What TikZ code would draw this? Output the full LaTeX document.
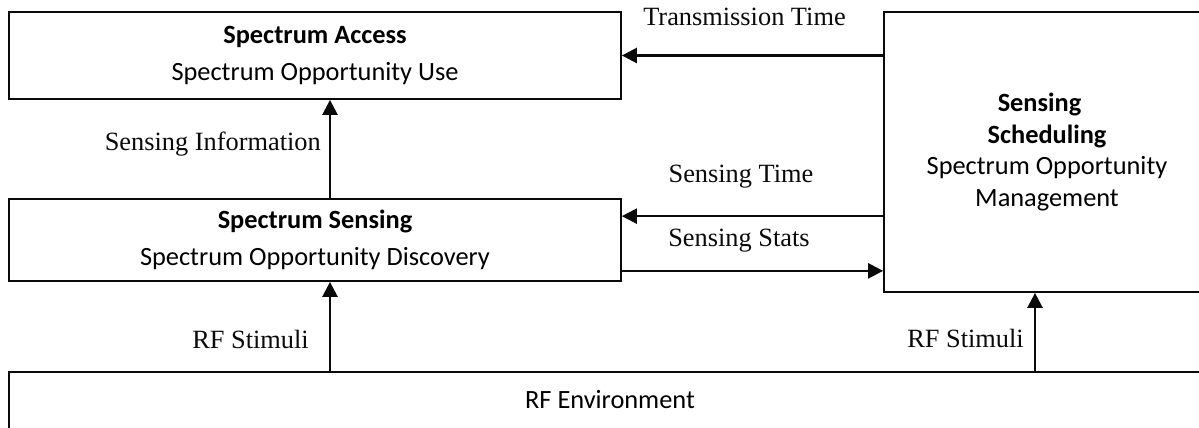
\documentclass[tikz,border=0pt]{standalone}
\usepackage{fontspec}
\setmainfont{Liberation Serif}
\newfontfamily\boxfont{Carlito}
\usetikzlibrary{arrows.meta,calc}
\definecolor{Ink}{HTML}{0A0A0A}

\begin{document}
\begin{tikzpicture}[font=\fontsize{15}{18}\selectfont,>={Triangle[length=3mm,width=3mm]},box/.style={draw=Ink,line width=1pt,align=center,inner sep=0pt,font=\boxfont\fontsize{15}{18}\selectfont},flow/.style={->,line width=1.4pt,draw=Ink},tag/.style={inner sep=0pt,text depth=0pt,text=Ink}]
 \useasboundingbox (0,0) rectangle (23.98,-8.54);
 \node[box,minimum width=12.24cm,minimum height=1.74cm] (access) at (6.30,-1.11) {\textbf{Spectrum Access}\\[3pt]Spectrum Opportunity Use};
 \node[box,minimum width=12.24cm,minimum height=1.64cm] (sensing) at (6.30,-4.80) {\textbf{Spectrum Sensing}\\[3pt]Spectrum Opportunity Discovery};
 \node[box,minimum width=6.52cm,minimum height=5.6cm] (sched) at (20.94,-3.04) {\textbf{Sensing}\hspace*{0.3cm}\\\textbf{Scheduling}\\Spectrum Opportunity\\Management};
 \node[box,anchor=north,minimum width=24.04cm,text height=0.74cm,text depth=1.5cm] (env) at (12.20,-7.42) {RF Environment};
 \coordinate (up) at ([xshift=0.3cm]sensing.north);
 \coordinate (rup) at ([xshift=-0.24cm]sched.south);
 \coordinate (tin) at ([yshift=-0.36cm]sensing.north east);
 \coordinate (sout) at ([yshift=0.22cm]sensing.south east);
 \draw[flow] (up) -- node[tag,left=0.16cm,pos=0.58] {Sensing Information} (up |- access.south);
 \draw[flow] (up |- env.north) -- node[tag,left=0.4cm,pos=0.36] {RF Stimuli} (up |- sensing.south);
 \draw[flow] (rup |- env.north) -- node[tag,left=0.2cm,pos=0.42] {RF Stimuli} (rup);
 \draw[flow] (access.east -| sched.west) -- node[tag,above=0.58cm,xshift=-0.16cm] {Transmission Time} (access.east);
 \draw[flow] (tin -| sched.west) -- node[tag,above=0.64cm,xshift=-0.23cm] {Sensing Time} (tin);
 \draw[flow] (sout) -- node[tag,above=0.46cm,xshift=-0.27cm] {Sensing Stats} (sout -| sched.west);
\end{tikzpicture}
\end{document}
